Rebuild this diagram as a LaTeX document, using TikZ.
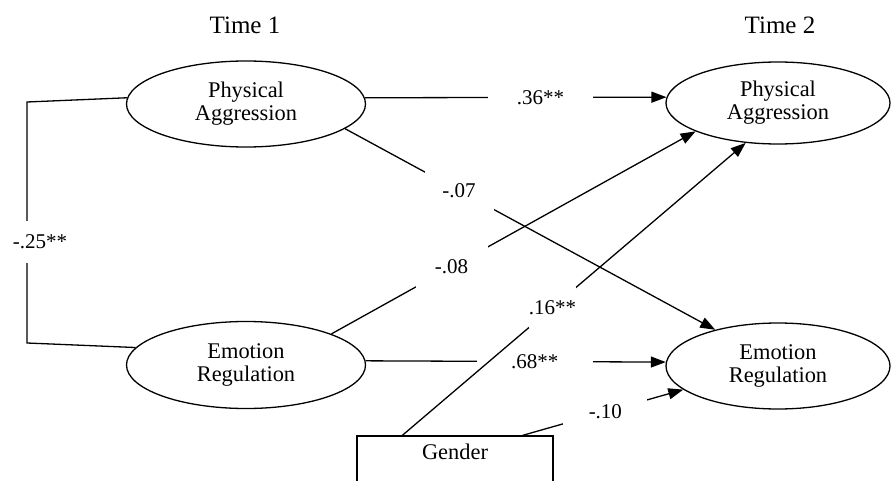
\documentclass[tikz,border=0pt]{standalone}
\usepackage{fontspec}
\setmainfont{Liberation Serif}
\usetikzlibrary{arrows.meta, shapes.geometric}

\begin{document}
\begin{tikzpicture}[
    x=0.5pt, y=-0.5pt,
    latent/.style={draw, ellipse, line width=0.65pt, inner sep=0pt, align=center, font=\fontsize{11.2}{11.5}\selectfont},
    observed/.style={draw, rectangle, line width=0.65pt, minimum width=98pt, text height=8pt, text depth=40pt, inner ysep=3.5pt, font=\fontsize{11.2}{11.5}\selectfont},
    conn/.style={line width=0.65pt},
    arrow/.style={conn, -{Triangle[length=7.5pt, width=5.5pt]}},
    lbl/.style={fill=white, inner sep=0pt, font=\fontsize{10.5}{12}\selectfont},
    timelbl/.style={font=\fontsize{12.5}{14}\selectfont}
]
\path[use as bounding box, fill=white] (0,0) rectangle (894,481);

% Time headings
\node[timelbl] (time1) at (245,25) {Time 1};
\node[timelbl] (time2) at (780,25) {Time 2};

% Time 1 factors
\node[latent, minimum width=119.5pt, minimum height=43pt] (pa1) at (246,104) {Physical\\Aggression};
\node[latent, minimum width=119.5pt, minimum height=43.5pt] (er1) at (246,365) {Emotion\\Regulation};

% Time 2 factors
\node[latent, minimum width=112pt, minimum height=41pt] (pa2) at (778,103) {Physical\\Aggression};
\node[latent, minimum width=112pt, minimum height=43pt] (er2) at (778,366) {Emotion\\Regulation};

% Covariate
\node[observed, anchor=base] (gender) at (455,459) {Gender};

% Correlation at Time 1
\coordinate (brtop) at (27,102);
\coordinate (brbot) at (27,343);
\draw[conn] (pa1.177) -- (brtop) -- node[lbl, pos=0.58, xshift=6.5pt, minimum height=21pt] {-.25**} (brbot) -- (er1.171);

% Stability paths
\draw[arrow] (pa1.3) -- node[lbl, pos=0.582, minimum width=52.5pt] {.36**} (pa2.177);
\draw[arrow] (er1.2) -- node[lbl, pos=0.563, minimum width=58pt] {.68**} (er2.178);

% Cross-lagged paths
\draw[arrow] (pa1.-14) -- node[lbl, pos=0.308, minimum width=34.5pt, minimum height=20pt] {-.07} (er2.150);
\draw[arrow] (er1.20) -- node[lbl, pos=0.33, minimum width=36pt, minimum height=21pt] {-.08} (pa2.199);

% Gender effects
\draw[arrow] ([xshift=23pt]gender.north west) -- node[lbl, pos=0.437, minimum height=20.7pt] {.16**} (pa2.231);
\draw[arrow] ([xshift=-15.5pt]gender.north east) -- node[lbl, pos=0.515, minimum width=42pt, minimum height=14pt] {-.10} (er2.194);

\end{tikzpicture}
\end{document}
